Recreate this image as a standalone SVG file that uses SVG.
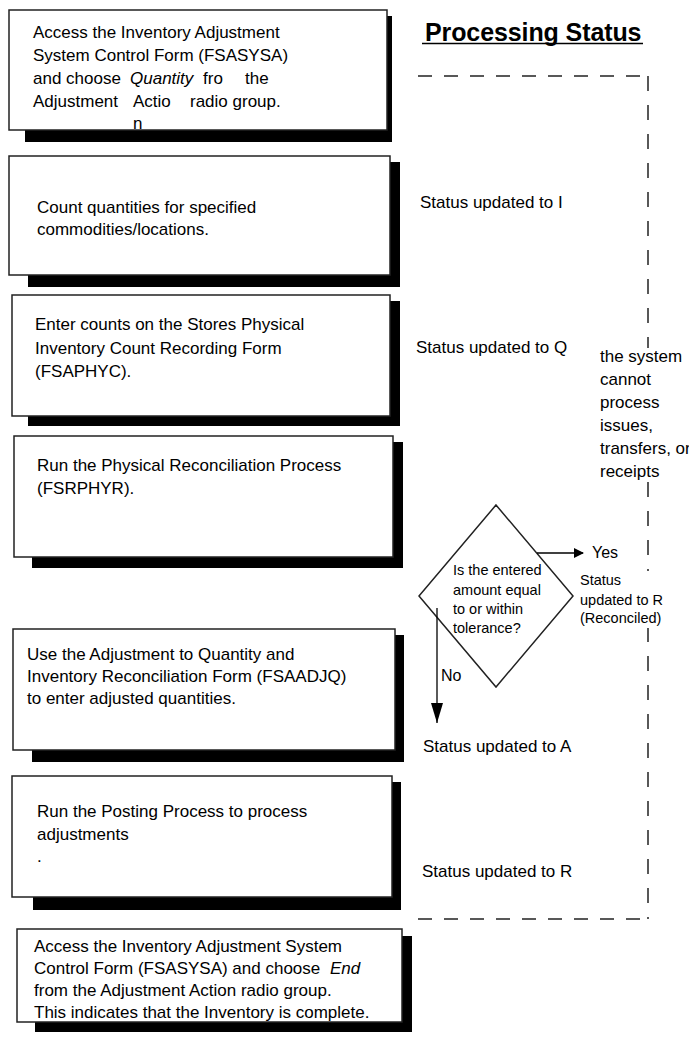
<svg xmlns="http://www.w3.org/2000/svg" width="689" height="1051" viewBox="0 0 689 1051">
<style>
text{font-family:"Liberation Sans",Arial,sans-serif;fill:#000;}
.t{font-size:17px;}
.s{font-size:14.5px;}
.box{fill:#fff;stroke:#222;stroke-width:1.5;}
.sh{fill:#000;}
.dash{fill:none;stroke:#222;stroke-width:1.5;}
.conn{fill:none;stroke:#000;stroke-width:1.3;}
.bg{fill:#fff;}
</style>
<defs>
<marker id="ah" markerWidth="10" markerHeight="10" refX="9" refY="5" orient="auto" markerUnits="userSpaceOnUse" viewBox="0 0 10 10">
<path d="M0,0 L10,5 L0,10 z" fill="#000"/>
</marker>
<marker id="ahd" markerWidth="20" markerHeight="14" refX="20" refY="7" orient="auto" markerUnits="userSpaceOnUse" viewBox="0 0 20 14">
<path d="M0,1 L20,7 L0,13 z" fill="#000"/>
</marker>
</defs>
<rect width="689" height="1051" fill="#fff"/>

<g id="title">
<text x="425" y="41" style="font-size:25px;font-weight:bold;letter-spacing:-0.1px">Processing Status</text>
<line x1="422" y1="43.5" x2="643" y2="43.5" stroke="#000" stroke-width="1.3"/>
</g>

<g id="status-region">
<line class="dash" x1="418" y1="76" x2="648" y2="76" stroke-dasharray="14 12"/>
<line class="dash" x1="648" y1="76" x2="648" y2="919" stroke-dasharray="15 14"/>
<line class="dash" x1="418" y1="919" x2="648" y2="919" stroke-dasharray="14 12"/>
</g>

<g id="step1">
<rect class="sh" x="25" y="16" width="367" height="126"/>
<rect class="box" x="9" y="10" width="378" height="120"/>
<text class="t" x="33" y="38">Access the Inventory Adjustment</text>
<text class="t" x="33" y="61">System Control Form (FSASYSA)</text>
<text class="t" x="33" y="84">and choose</text>
<text class="t" x="130" y="84" font-style="italic">Quantity</text>
<text class="t" x="203" y="84">fro</text>
<text class="t" x="245" y="84">the</text>
<text class="t" x="33" y="107">Adjustment</text>
<text class="t" x="133" y="107">Actio</text>
<text class="t" x="190" y="107">radio group.</text>
<text class="t" x="133" y="129">n</text>
</g>

<g id="step2">
<rect class="sh" x="28" y="162" width="372" height="125"/>
<rect class="box" x="9" y="156" width="381" height="119"/>
<text class="t" x="37" y="213">Count quantities for specified</text>
<text class="t" x="37" y="235">commodities/locations.</text>
</g>

<g id="step3">
<rect class="sh" x="28" y="301" width="372" height="125"/>
<rect class="box" x="12" y="295" width="378" height="121"/>
<text class="t" x="35" y="330">Enter counts on the Stores Physical</text>
<text class="t" x="35" y="354">Inventory Count Recording Form</text>
<text class="t" x="35" y="377">(FSAPHYC).</text>
</g>

<g id="step4">
<rect class="sh" x="32" y="442" width="371" height="126"/>
<rect class="box" x="14" y="436" width="379" height="121"/>
<text class="t" x="37" y="471">Run the Physical Reconciliation Process</text>
<text class="t" x="37" y="494">(FSRPHYR).</text>
</g>

<g id="step5">
<rect class="sh" x="32" y="635" width="372" height="127"/>
<rect class="box" x="13" y="629" width="382" height="121"/>
<text class="t" x="27" y="660">Use the Adjustment to Quantity and</text>
<text class="t" x="27" y="682">Inventory Reconciliation Form (FSAADJQ)</text>
<text class="t" x="27" y="704">to enter adjusted quantities.</text>
</g>

<g id="step6">
<rect class="sh" x="33" y="782" width="368" height="128"/>
<rect class="box" x="12" y="776" width="380" height="121"/>
<text class="t" x="37" y="817">Run the Posting Process to process</text>
<text class="t" x="37" y="840">adjustments</text>
<text class="t" x="37" y="862">.</text>
</g>

<g id="step7">
<rect class="sh" x="35" y="936" width="377" height="96"/>
<rect class="box" x="17" y="929" width="385" height="93"/>
<text class="t" x="34" y="952">Access the Inventory Adjustment System</text>
<text class="t" x="34" y="974">Control Form (FSASYSA) and choose</text>
<text class="t" x="330" y="974" font-style="italic">End</text>
<text class="t" x="34" y="996">from the Adjustment Action radio group.</text>
<text class="t" x="34" y="1018">This indicates that the Inventory is complete.</text>
</g>

<g id="decision">
<polygon points="496,505 573,596 496,687 419,596" fill="#fff" stroke="#222" stroke-width="1.5"/>
<text class="s" x="453" y="575">Is the entered</text>
<text class="s" x="453" y="595">amount equal</text>
<text class="s" x="453" y="614">to or within</text>
<text class="s" x="453" y="633">tolerance?</text>
</g>

<g id="status-labels">
<text class="t" x="420" y="208">Status updated to I</text>
<text class="t" x="416" y="353">Status updated to Q</text>
<rect class="bg" x="598" y="348" width="91" height="134"/>
<text class="t" x="600" y="362">the system</text>
<text class="t" x="600" y="385">cannot</text>
<text class="t" x="600" y="408">process</text>
<text class="t" x="600" y="431">issues,</text>
<text class="t" x="600" y="454">transfers, or</text>
<text class="t" x="600" y="477">receipts</text>
<text x="592" y="558" style="font-size:16px">Yes</text>
<rect class="bg" x="578" y="571" width="90" height="57"/>
<text class="s" x="580" y="585">Status</text>
<text class="s" x="580" y="605">updated to R</text>
<text class="s" x="580" y="623">(Reconciled)</text>
<text x="441" y="681" style="font-size:16px">No</text>
<text class="t" x="423" y="752">Status updated to A</text>
<text class="t" x="422" y="877">Status updated to R</text>
</g>

<g id="connectors">
<line class="conn" x1="537" y1="553" x2="583" y2="553" marker-end="url(#ah)"/>
<line class="conn" x1="437" y1="608" x2="437" y2="723" marker-end="url(#ahd)"/>
</g>
</svg>
